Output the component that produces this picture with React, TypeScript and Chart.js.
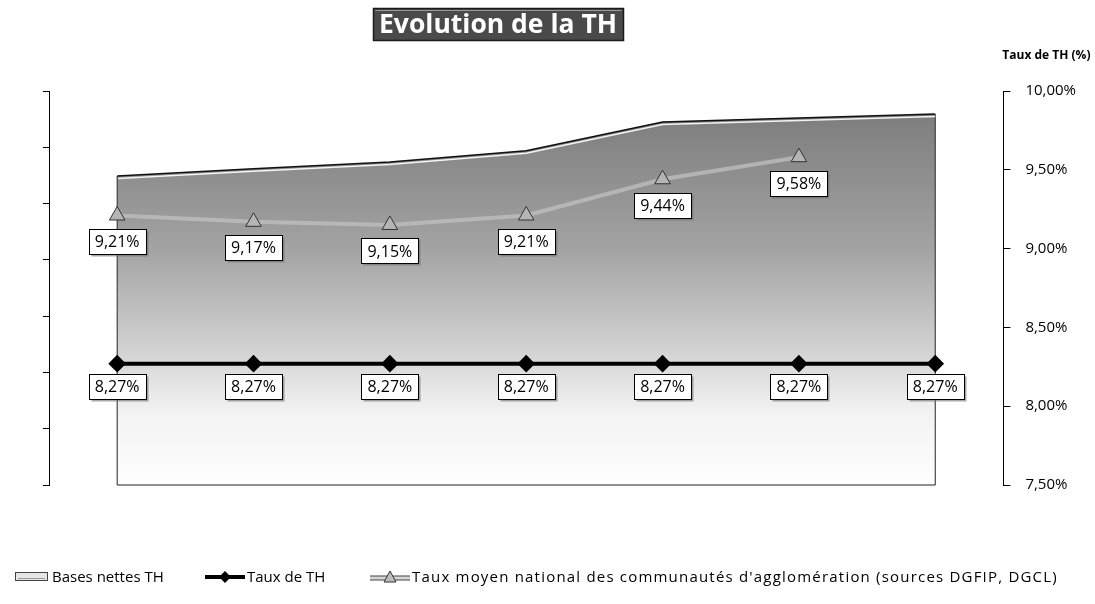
import React, { useEffect, useRef } from "react";
import { Chart, registerables } from "chart.js";

Chart.register(...registerables);

// ---- data ----
const years = ["2008", "2009", "2010", "2011", "2012", "2013", "2014"];
const basesNettesTH = [54.9, 56.2, 57.4, 59.4, 64.5, 65.2, 65.9];
const tauxTH = [8.27, 8.27, 8.27, 8.27, 8.27, 8.27, 8.27];
const tauxNational = [9.21, 9.17, 9.15, 9.21, 9.44, 9.58, null];
const rightAxisMin = 7.5;
const rightAxisMax = 10;
const rightAxisStep = 0.5;

const seriesLabels = [
  "Bases nettes TH",
  "Taux de TH",
  "Taux moyen national des communautés d'agglomération (sources DGFIP, DGCL)",
];
const chartTitle = "Evolution de la TH";
const rightAxisTitle = "Taux de TH (%)";

const FONT = "'Open Sans', 'DejaVu Sans', sans-serif";

const fmtPct = (v: number) => v.toFixed(2).replace(".", ",") + "%";

function drawIcon(ctx: CanvasRenderingContext2D, kind: number, x: number, y: number) {
  ctx.save();
  if (kind === 0) {
    ctx.fillStyle = "#e6e6e6";
    ctx.fillRect(x + 0.5, y - 4.5, 32, 8);
    ctx.strokeStyle = "#444";
    ctx.lineWidth = 1;
    ctx.strokeRect(x + 0.5, y - 4.5, 32, 8);
    ctx.strokeStyle = "#999";
    ctx.beginPath();
    ctx.moveTo(x + 3, y + 1.5);
    ctx.lineTo(x + 30, y + 1.5);
    ctx.stroke();
  } else if (kind === 1) {
    ctx.strokeStyle = "#000";
    ctx.lineWidth = 4;
    ctx.beginPath();
    ctx.moveTo(x, y);
    ctx.lineTo(x + 40, y);
    ctx.stroke();
    ctx.fillStyle = "#000";
    ctx.beginPath();
    ctx.moveTo(x + 20, y - 6);
    ctx.lineTo(x + 26, y);
    ctx.lineTo(x + 20, y + 6);
    ctx.lineTo(x + 14, y);
    ctx.closePath();
    ctx.fill();
  } else {
    ctx.strokeStyle = "#444";
    ctx.lineWidth = 5;
    ctx.beginPath();
    ctx.moveTo(x, y + 1);
    ctx.lineTo(x + 40, y + 1);
    ctx.stroke();
    ctx.strokeStyle = "#d6d6d6";
    ctx.lineWidth = 3;
    ctx.beginPath();
    ctx.moveTo(x, y + 1);
    ctx.lineTo(x + 40, y + 1);
    ctx.stroke();
    ctx.fillStyle = "#bdbdbd";
    ctx.strokeStyle = "#333";
    ctx.lineWidth = 1;
    ctx.beginPath();
    ctx.moveTo(x + 20, y - 6);
    ctx.lineTo(x + 26, y + 5);
    ctx.lineTo(x + 14, y + 5);
    ctx.closePath();
    ctx.fill();
    ctx.stroke();
  }
  ctx.restore();
}

const legendLayout = [
  { iconX: 15, textX: 52 },
  { iconX: 205, textX: 247 },
  { iconX: 370, textX: 412 },
];

const decorPlugin = {
  id: "decor",
  afterDatasetDraw(chart: any, args: any) {
    if (args.index !== 0) return;
    const meta = chart.getDatasetMeta(0);
    const pts = meta.data;
    if (!pts.length) return;
    const bottom = chart.scales.y.getPixelForValue(0);
    const ctx = chart.ctx;
    ctx.save();
    ctx.strokeStyle = "#222";
    ctx.lineWidth = 1;
    ctx.beginPath();
    ctx.moveTo(pts[0].x, pts[0].y);
    ctx.lineTo(pts[0].x, bottom);
    ctx.lineTo(pts[pts.length - 1].x, bottom);
    ctx.lineTo(pts[pts.length - 1].x, pts[pts.length - 1].y);
    ctx.stroke();
    ctx.strokeStyle = "rgba(255,255,255,0.9)";
    ctx.lineWidth = 1.5;
    ctx.beginPath();
    pts.forEach((p: any, i: number) => {
      if (i === 0) ctx.moveTo(p.x + 1, p.y + 2.5);
      else ctx.lineTo(p.x, p.y + 2.5);
    });
    ctx.stroke();
    ctx.restore();
  },
  afterDatasetsDraw(chart: any) {
    const ctx = chart.ctx;
    ctx.save();
    ctx.font = `16px ${FONT}`;
    ctx.textAlign = "center";
    ctx.textBaseline = "middle";
    [1, 2].forEach((di) => {
      const meta = chart.getDatasetMeta(di);
      const data = chart.data.datasets[di].data as (number | null)[];
      const off = di === 1 ? 23 : 26;
      meta.data.forEach((el: any, i: number) => {
        const v = data[i];
        if (v === null || v === undefined) return;
        const text = fmtPct(v);
        const w = Math.round(ctx.measureText(text).width + 12);
        const h = 25;
        const cx = el.x;
        const cy = el.y + off;
        const x0 = Math.round(cx - w / 2) + 0.5;
        const y0 = Math.round(cy - h / 2) + 0.5;
        ctx.fillStyle = "rgba(110,110,110,0.6)";
        ctx.fillRect(x0 + 2, y0 + 2, w, h);
        ctx.fillStyle = "#fff";
        ctx.fillRect(x0, y0, w, h);
        ctx.strokeStyle = "#000";
        ctx.lineWidth = 1;
        ctx.strokeRect(x0, y0, w, h);
        ctx.fillStyle = "#000";
        ctx.fillText(text, cx, cy + 1);
      });
    });
    ctx.restore();
  },
  afterDraw(chart: any) {
    const ctx = chart.ctx;
    ctx.save();
    // title box
    ctx.font = `bold 27px ${FONT}`;
    const tw = ctx.measureText(chartTitle).width;
    const cx = 498;
    const bw = 250;
    const bx = Math.round(cx - bw / 2) + 0.5;
    const by = 8.5;
    const bh = 32;
    ctx.fillStyle = "#4a4a4a";
    ctx.fillRect(bx, by, bw, bh);
    ctx.strokeStyle = "#1a1a1a";
    ctx.lineWidth = 1.5;
    ctx.strokeRect(bx, by, bw, bh);
    ctx.strokeStyle = "#9a9a9a";
    ctx.lineWidth = 1;
    ctx.beginPath();
    ctx.moveTo(bx + 2, by + 2);
    ctx.lineTo(bx + bw - 2, by + 2);
    ctx.stroke();
    ctx.fillStyle = "#fff";
    ctx.textAlign = "center";
    ctx.textBaseline = "middle";
    const scaleX = Math.min(1, (bw - 12) / tw);
    ctx.save();
    ctx.translate(cx, by + bh / 2 + 1);
    ctx.scale(scaleX, 1);
    ctx.fillText(chartTitle, 0, 0);
    ctx.restore();
    // right axis title
    const ry = chart.scales.y1;
    ctx.font = `bold 12px ${FONT}`;
    ctx.fillStyle = "#000";
    ctx.textAlign = "center";
    ctx.fillText(rightAxisTitle, ry.left + 43, 56);
    // legend
    const ly = 577;
    ctx.font = `15px ${FONT}`;
    ctx.textAlign = "left";
    ctx.textBaseline = "middle";
    seriesLabels.forEach((t, i) => {
      const L = legendLayout[i];
      drawIcon(ctx, i, L.iconX, ly);
      ctx.fillStyle = "#000";
      (ctx as any).letterSpacing = i === 2 ? "1.2px" : "0px";
      ctx.fillText(t, L.textX, ly + 1);
    });
    (ctx as any).letterSpacing = "0px";
    ctx.restore();
  },
};

export default function App() {
  const ref = useRef<HTMLCanvasElement | null>(null);
  useEffect(() => {
    document.body.style.margin = "0";
    const canvas = ref.current!;
    const chart = new Chart(canvas, {
      type: "line",
      data: {
        labels: years,
        datasets: [
          {
            label: seriesLabels[0],
            data: basesNettesTH,
            yAxisID: "y",
            fill: "start",
            backgroundColor: (c: any) => {
              const ca = c.chart.chartArea;
              if (!ca) return "#aaa";
              const g = c.chart.ctx.createLinearGradient(0, ca.top, 0, ca.bottom);
              g.addColorStop(0, "#777777");
              g.addColorStop(0.4, "#a3a3a3");
              g.addColorStop(0.63, "#cdcdcd");
              g.addColorStop(0.82, "#f3f3f3");
              g.addColorStop(1, "#ffffff");
              return g;
            },
            borderColor: "#111",
            borderWidth: 1.5,
            pointRadius: 0,
            tension: 0,
            order: 3,
          } as any,
          {
            label: seriesLabels[1],
            data: tauxTH,
            yAxisID: "y1",
            borderColor: "#000",
            borderWidth: 4,
            pointStyle: "rectRot",
            pointRadius: 6,
            pointBackgroundColor: "#000",
            pointBorderColor: "#000",
            fill: false,
            order: 1,
          },
          {
            label: seriesLabels[2],
            data: tauxNational,
            yAxisID: "y1",
            borderColor: "rgba(195,195,195,0.7)",
            borderWidth: 4,
            pointStyle: "triangle",
            pointRadius: 9,
            pointBackgroundColor: "#b5b5b5",
            pointBorderColor: "#333",
            pointBorderWidth: 1,
            fill: false,
            spanGaps: false,
            order: 2,
          },
        ],
      },
      options: {
        animation: false,
        responsive: false,
        layout: { padding: { left: 43, right: 4, top: 91, bottom: 119 } },
        scales: {
          x: {
            type: "category",
            offset: true,
            display: false,
          },
          y: {
            position: "left",
            min: 0,
            max: 70,
            ticks: { display: false, stepSize: 10 },
            grid: { display: true, drawOnChartArea: false, drawTicks: true, tickLength: 6, tickColor: "#000" },
            border: { display: true, color: "#000", width: 1 },
          },
          y1: {
            position: "right",
            min: rightAxisMin,
            max: rightAxisMax,
            ticks: {
              stepSize: rightAxisStep,
              callback: (v: any) => fmtPct(Number(v)),
              color: "#000",
              font: { family: FONT, size: 15 },
              padding: 15,
            },
            grid: { display: true, drawOnChartArea: false, drawTicks: true, tickLength: 7, tickColor: "#000" },
            border: { display: true, color: "#000", width: 1 },
          },
        },
        plugins: {
          title: { display: false },
          tooltip: { enabled: false },
          legend: { display: false },
        },
      },
      plugins: [decorPlugin],
    });
    return () => chart.destroy();
  }, []);
  return <canvas ref={ref} width={1095} height={604} style={{ display: "block" }} />;
}
